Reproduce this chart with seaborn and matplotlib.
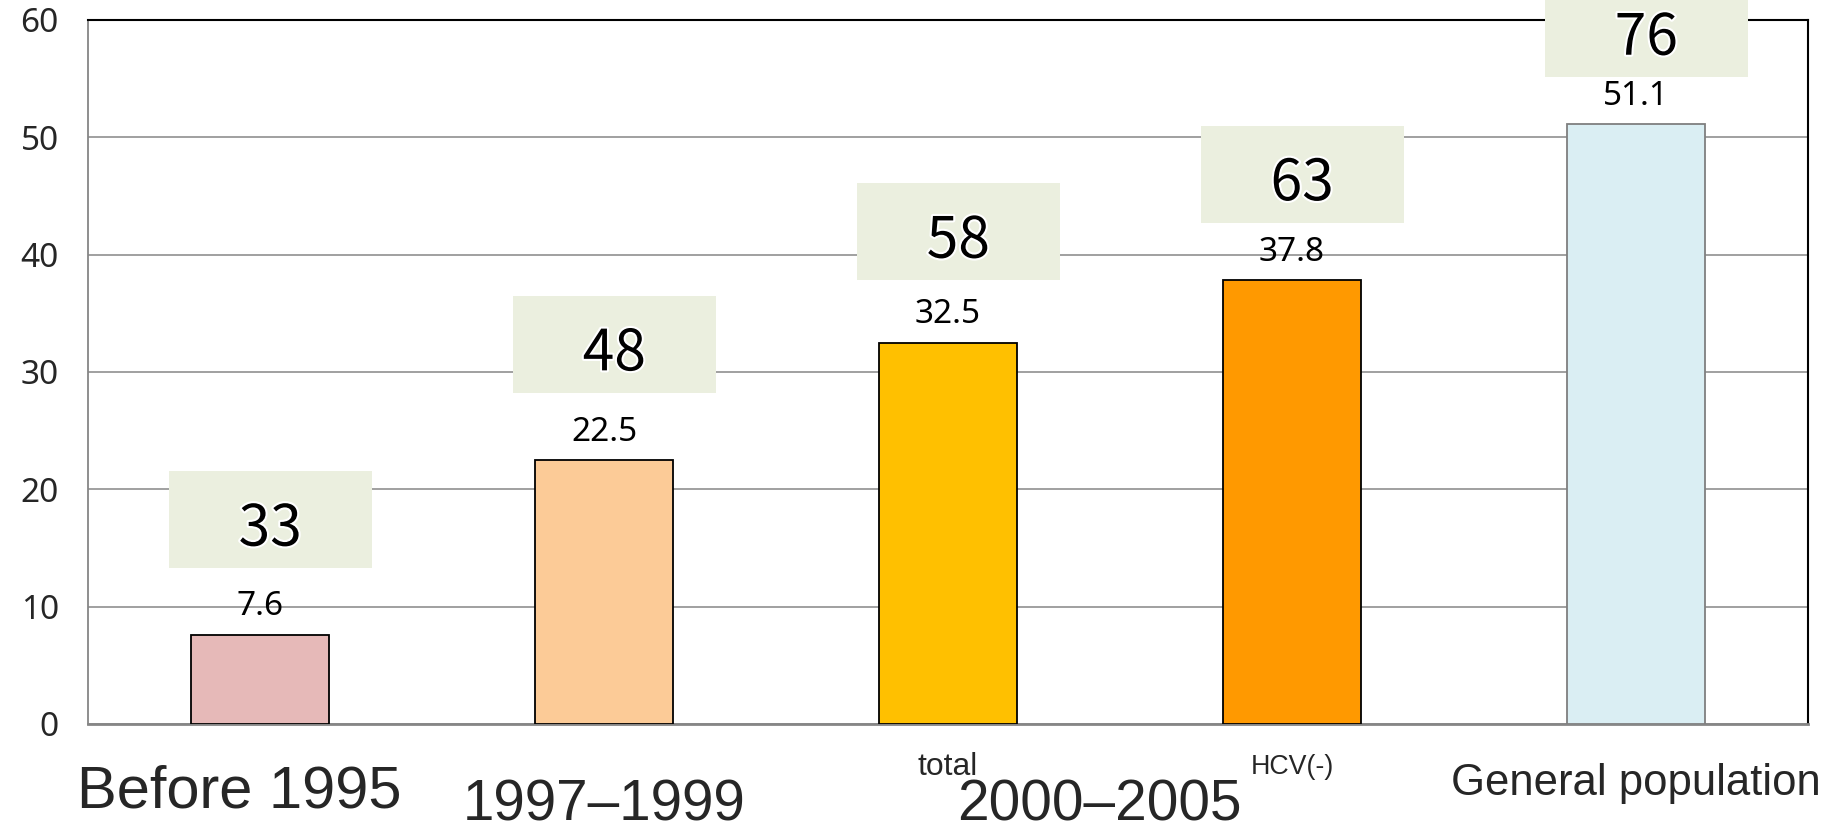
import matplotlib
matplotlib.use("Agg")
import matplotlib.pyplot as plt
import matplotlib.patches as mpatches
import matplotlib.patheffects as pe
import matplotlib.transforms as mtrans
import seaborn as sns
import pandas as pd

# ---- data ----
categories = ["Before 1995", "1997–1999", "2000–2005 total", "2000–2005 HCV(-)", "General population"]
values = [7.6, 22.5, 32.5, 37.8, 51.1]
box_numbers = ["33", "48", "58", "63", "76"]
tick_labels = ["Before 1995", "1997–1999", "total", "HCV(-)", "General population"]
group_label = "2000–2005"
bar_colors = ["#E6B9B8", "#FCCB97", "#FFC000", "#FF9900", "#DAEEF3"]
y_ticks = [0, 10, 20, 30, 40, 50, 60]

# ---- layout (not data) ----
box_gap = [5.66, 5.7, 5.3, 4.9, 4.0]   # gap between bar top and box bottom (data units)
box_w, box_h = 0.59, 8.28

sns.set_style("white")
df = pd.DataFrame({"cat": categories, "val": values})

fig = plt.figure(figsize=(18.34, 8.32), dpi=100)
ax = fig.add_axes([88 / 1834, (832 - 724) / 832, (1808 - 88) / 1834, (724 - 20) / 832])

sns.barplot(data=df, x="cat", y="val", hue="cat", palette=bar_colors, width=0.4,
            legend=False, ax=ax, saturation=1, zorder=3)
edge_cols = ["black", "black", "black", "black", "#7F7F7F"]
for p, ec in zip(ax.patches, edge_cols):
    p.set_edgecolor(ec)
    p.set_linewidth(1.3)

ax.set_xlim(-0.5, 4.5)
ax.set_ylim(0, 60)
ax.set_xlabel("")
ax.set_ylabel("")
ax.set_yticks(y_ticks)
ax.set_yticklabels([str(t) for t in y_ticks], fontsize=24, family="Noto Sans")
ax.set_xticks([i - 0.5 for i in range(len(categories) + 1)])
ax.set_xticklabels([])
ax.yaxis.grid(True, color="#868686", lw=1.1, zorder=0)
ax.set_axisbelow(True)
ax.tick_params(axis="y", length=9, width=1.1, color="#868686", pad=12)
ax.tick_params(axis="x", length=7, width=1.1, color="#868686", direction="out")
ax.spines["left"].set_color("#868686")
ax.spines["left"].set_linewidth(1.3)
ax.spines["bottom"].set_color("#868686")
ax.spines["bottom"].set_linewidth(2.0)
ax.spines["top"].set_color("black")
ax.spines["top"].set_linewidth(1.5)
ax.spines["right"].set_color("black")
ax.spines["right"].set_linewidth(1.5)

# value labels
for i, v in enumerate(values):
    ax.text(i, v + 1.65, f"{v:.1f}", ha="center", va="baseline", fontsize=24,
            family="Noto Sans", color="black", zorder=6)

# boxes with big numbers
for i, (v, num) in enumerate(zip(values, box_numbers)):
    bottom = v + box_gap[i]
    cx = i + 0.03
    rect = mpatches.Rectangle((cx - box_w / 2, bottom), box_w, box_h, facecolor="#EBEFDF",
                              edgecolor="none", zorder=5, clip_on=False)
    ax.add_patch(rect)
    t = ax.text(cx, bottom + box_h / 2 - 2.2, num, ha="center", va="baseline", fontsize=41,
                family=["Noto Sans CJK JP", "DejaVu Sans"], fontweight="normal",
                color="black", zorder=7, clip_on=False)
    t.set_path_effects([pe.withStroke(linewidth=3, foreground="white")])

# x labels (font size fitted to the reference's label widths)
tr = mtrans.blended_transform_factory(ax.transData, ax.transAxes)
fam = ["Liberation Sans", "DejaVu Sans"]
specs = [
    (tick_labels[0], -0.06, -0.118, 325),
    (tick_labels[1], 1.0, -0.137, 284),
    (tick_labels[2], 2.0, -0.072, 60),
    (tick_labels[3], 3.0, -0.071, 83),
    (group_label, 2.44, -0.137, 284),
    (tick_labels[4], 4.0, -0.101, 368),
]
texts = []
for s, x, y, w in specs:
    t = ax.text(x, y, s, transform=tr, ha="center", va="baseline", fontsize=30, family=fam)
    texts.append((t, w))
fig.canvas.draw()
r = fig.canvas.get_renderer()
for t, w in texts:
    cur = t.get_window_extent(r).width
    t.set_fontsize(30 * w / cur)

fig.savefig("out.png", dpi=100)
